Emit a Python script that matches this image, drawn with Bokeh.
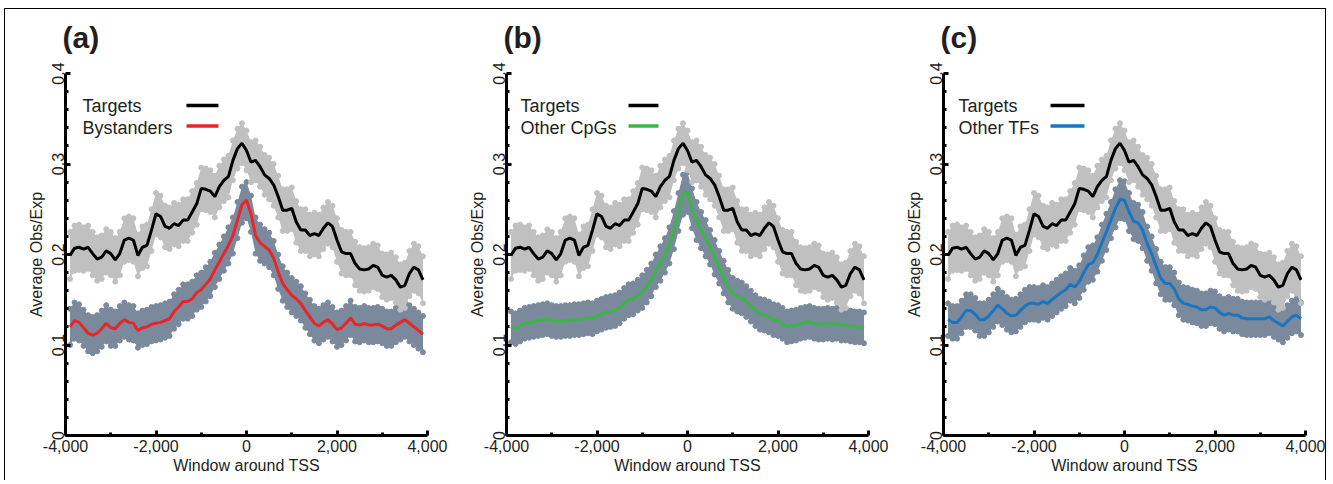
from bokeh.plotting import figure
from bokeh.layouts import row
from bokeh.models import FixedTicker, NumeralTickFormatter, Label, Range1d, Title
from bokeh.embed import file_html
from bokeh.resources import INLINE

# ---------------- data ----------------
positions = list(range(-3900, 4000, 100))  # window around TSS (bp)

targets = [0.199, 0.207, 0.208, 0.206, 0.208, 0.201, 0.195, 0.197, 0.204, 0.201,
           0.194, 0.201, 0.216, 0.218, 0.216, 0.199, 0.208, 0.210, 0.227, 0.245,
           0.242, 0.231, 0.229, 0.234, 0.232, 0.238, 0.238, 0.247, 0.256, 0.273,
           0.272, 0.270, 0.264, 0.275, 0.282, 0.286, 0.304, 0.317, 0.323, 0.315,
           0.302, 0.304, 0.297, 0.288, 0.284, 0.277, 0.264, 0.249, 0.249, 0.251,
           0.236, 0.227, 0.227, 0.221, 0.223, 0.221, 0.229, 0.235, 0.231, 0.216,
           0.203, 0.201, 0.201, 0.190, 0.184, 0.183, 0.184, 0.188, 0.186, 0.177,
           0.175, 0.177, 0.172, 0.164, 0.166, 0.179, 0.186, 0.183, 0.172]
targets_err = [0.026, 0.025, 0.025, 0.024, 0.024, 0.024, 0.024, 0.024, 0.024, 0.024,
               0.024, 0.024, 0.024, 0.024, 0.024, 0.023, 0.023, 0.023, 0.023, 0.023,
               0.023, 0.023, 0.023, 0.023, 0.023, 0.023, 0.023, 0.023, 0.023, 0.023,
               0.023, 0.023, 0.023, 0.023, 0.023, 0.023, 0.022, 0.022, 0.022, 0.022,
               0.022, 0.022, 0.022, 0.022, 0.023, 0.023, 0.023, 0.023, 0.023, 0.023,
               0.023, 0.023, 0.023, 0.023, 0.023, 0.023, 0.023, 0.023, 0.023, 0.024,
               0.024, 0.024, 0.024, 0.024, 0.024, 0.024, 0.024, 0.024, 0.024, 0.024,
               0.025, 0.025, 0.025, 0.025, 0.025, 0.025, 0.026, 0.026, 0.026]

bystanders = [0.120, 0.127, 0.125, 0.119, 0.113, 0.111, 0.113, 0.118, 0.124, 0.119,
              0.118, 0.124, 0.128, 0.125, 0.124, 0.116, 0.119, 0.120, 0.123, 0.124,
              0.125, 0.127, 0.129, 0.137, 0.142, 0.148, 0.148, 0.151, 0.158, 0.161,
              0.167, 0.173, 0.183, 0.192, 0.201, 0.210, 0.221, 0.238, 0.255, 0.260,
              0.245, 0.221, 0.213, 0.209, 0.205, 0.196, 0.181, 0.168, 0.161, 0.155,
              0.151, 0.146, 0.138, 0.131, 0.124, 0.121, 0.125, 0.128, 0.123, 0.117,
              0.119, 0.124, 0.130, 0.123, 0.122, 0.124, 0.122, 0.122, 0.123, 0.121,
              0.118, 0.118, 0.122, 0.125, 0.128, 0.124, 0.120, 0.116, 0.112]
bystanders_err = [0.020, 0.020, 0.020, 0.020, 0.020, 0.020, 0.020, 0.020, 0.020, 0.020,
                  0.019, 0.019, 0.019, 0.019, 0.019, 0.019, 0.019, 0.019, 0.019, 0.019,
                  0.019, 0.019, 0.019, 0.019, 0.019, 0.019, 0.019, 0.019, 0.019, 0.019,
                  0.019, 0.019, 0.019, 0.019, 0.019, 0.020, 0.020, 0.020, 0.020, 0.020,
                  0.020, 0.020, 0.020, 0.019, 0.019, 0.019, 0.019, 0.019, 0.019, 0.019,
                  0.019, 0.019, 0.019, 0.019, 0.019, 0.019, 0.019, 0.019, 0.019, 0.019,
                  0.019, 0.019, 0.019, 0.019, 0.019, 0.019, 0.019, 0.019, 0.019, 0.019,
                  0.019, 0.019, 0.019, 0.019, 0.019, 0.020, 0.020, 0.020, 0.020]

other_cpgs = [0.120, 0.118, 0.121, 0.124, 0.125, 0.126, 0.127, 0.128, 0.129, 0.127,
              0.126, 0.126, 0.127, 0.127, 0.128, 0.128, 0.129, 0.130, 0.129, 0.132,
              0.134, 0.136, 0.137, 0.138, 0.141, 0.146, 0.150, 0.151, 0.155, 0.159,
              0.165, 0.172, 0.182, 0.190, 0.199, 0.210, 0.227, 0.247, 0.266, 0.269,
              0.251, 0.237, 0.227, 0.218, 0.208, 0.197, 0.186, 0.175, 0.165, 0.157,
              0.154, 0.152, 0.148, 0.143, 0.138, 0.134, 0.133, 0.131, 0.128, 0.127,
              0.124, 0.120, 0.121, 0.122, 0.124, 0.125, 0.126, 0.124, 0.123, 0.123,
              0.124, 0.123, 0.124, 0.122, 0.122, 0.121, 0.120, 0.120, 0.119]
other_cpgs_err = [0.017, 0.017, 0.017, 0.017, 0.017, 0.017, 0.017, 0.017, 0.017, 0.017,
                  0.017, 0.017, 0.017, 0.017, 0.017, 0.017, 0.017, 0.017, 0.017, 0.017,
                  0.017, 0.017, 0.017, 0.017, 0.017, 0.017, 0.017, 0.017, 0.017, 0.018,
                  0.018, 0.018, 0.018, 0.019, 0.019, 0.020, 0.021, 0.021, 0.022, 0.022,
                  0.022, 0.021, 0.020, 0.020, 0.019, 0.019, 0.018, 0.018, 0.018, 0.017,
                  0.017, 0.017, 0.017, 0.017, 0.017, 0.017, 0.017, 0.017, 0.017, 0.017,
                  0.017, 0.017, 0.017, 0.017, 0.017, 0.017, 0.017, 0.017, 0.017, 0.017,
                  0.017, 0.017, 0.017, 0.017, 0.017, 0.017, 0.017, 0.017, 0.017]

other_tfs = [0.128, 0.125, 0.125, 0.131, 0.138, 0.138, 0.134, 0.128, 0.128, 0.132,
             0.138, 0.144, 0.140, 0.135, 0.132, 0.133, 0.138, 0.143, 0.146, 0.146,
             0.145, 0.148, 0.146, 0.150, 0.154, 0.158, 0.161, 0.167, 0.164, 0.170,
             0.180, 0.189, 0.191, 0.200, 0.213, 0.225, 0.238, 0.251, 0.261, 0.260,
             0.247, 0.237, 0.235, 0.227, 0.212, 0.201, 0.187, 0.174, 0.168, 0.168,
             0.162, 0.151, 0.146, 0.145, 0.143, 0.142, 0.139, 0.139, 0.142, 0.141,
             0.136, 0.133, 0.135, 0.133, 0.133, 0.130, 0.129, 0.129, 0.129, 0.129,
             0.129, 0.131, 0.127, 0.124, 0.121, 0.126, 0.131, 0.133, 0.129]
other_tfs_err = [0.018, 0.018, 0.018, 0.018, 0.018, 0.018, 0.018, 0.018, 0.018, 0.018,
                 0.018, 0.018, 0.018, 0.018, 0.018, 0.018, 0.018, 0.018, 0.018, 0.018,
                 0.018, 0.018, 0.018, 0.018, 0.018, 0.018, 0.018, 0.018, 0.018, 0.018,
                 0.019, 0.019, 0.019, 0.019, 0.020, 0.020, 0.020, 0.021, 0.021, 0.021,
                 0.021, 0.020, 0.020, 0.020, 0.019, 0.019, 0.019, 0.018, 0.018, 0.018,
                 0.018, 0.018, 0.018, 0.018, 0.018, 0.018, 0.018, 0.018, 0.018, 0.018,
                 0.018, 0.018, 0.018, 0.018, 0.018, 0.018, 0.018, 0.018, 0.018, 0.018,
                 0.018, 0.018, 0.018, 0.018, 0.018, 0.018, 0.018, 0.018, 0.018]

x_major = [-4000, -2000, 0, 2000, 4000]
x_minor = [-3000, -1000, 1000, 3000]
y_major = [0, 0.1, 0.2, 0.3, 0.4]
y_minor = [0.02, 0.04, 0.06, 0.08, 0.12, 0.14, 0.16, 0.18, 0.22, 0.24, 0.26, 0.28,
           0.32, 0.34, 0.36, 0.38]
y_labels = {0: "0", 0.1: "0.1", 0.2: "0.2", 0.3: "0.3", 0.4: "0.4"}

FONT = "Liberation Sans"
TXT = "#231f20"
LIGHT_BAND = "#c0c0c0"
DARK_BAND = "#7a8a9c"


def band(p, ys, errs, color):
    lo = [v - e for v, e in zip(ys, errs)]
    hi = [v + e for v, e in zip(ys, errs)]
    p.varea(x=positions, y1=lo, y2=hi, fill_color=color, fill_alpha=1.0)
    p.scatter(x=positions, y=hi, size=5, marker="circle", color=color)
    p.scatter(x=positions, y=lo, size=5, marker="circle", color=color)


def panel(letter, name, vals, errs, color, width, bl, br, tx, lx0, lx1):
    p = figure(width=width, height=471, x_range=Range1d(-4000, 4000),
               y_range=Range1d(0, 0.4), output_backend="svg",
               toolbar_location=None, min_border_left=bl, min_border_right=br,
               min_border_top=64, min_border_bottom=45)
    p.outline_line_color = None
    p.xgrid.visible = False
    p.ygrid.visible = False

    # panel letter as the plot title, with a thin spacer between it and the frame
    p.title.text = letter
    p.title.text_font = FONT
    p.title.text_font_size = "30px"
    p.title.text_font_style = "bold"
    p.title.text_color = TXT
    p.title.align = "left"
    p.title.offset = -3
    p.add_layout(Title(text=" ", text_font_size="2px", standoff=11), "above")

    band(p, vals, errs, DARK_BAND)
    band(p, targets, targets_err, LIGHT_BAND)
    p.line(positions, vals, line_color=color, line_width=3)
    p.line(positions, targets, line_color="black", line_width=3)

    # legend
    p.add_layout(Label(x=tx, y=0.3646, text="Targets", text_font=FONT,
                       text_font_size="18px", text_color=TXT, text_baseline="middle"))
    p.add_layout(Label(x=tx, y=0.340, text=name, text_font=FONT,
                       text_font_size="18px", text_color=TXT, text_baseline="middle"))
    p.line([lx0, lx1], [0.3646, 0.3646], line_color="black", line_width=3.5)
    p.line([lx0, lx1], [0.342, 0.342], line_color=color, line_width=3.5)

    for ax in (p.xaxis[0], p.yaxis[0]):
        ax.axis_line_width = 3
        ax.axis_line_color = "black"
        ax.major_tick_in = 5
        ax.major_tick_out = 0
        ax.minor_tick_in = 3
        ax.minor_tick_out = 0
        ax.major_tick_line_width = 3
        ax.minor_tick_line_width = 3
        ax.major_label_text_font = FONT
        ax.major_label_text_font_size = "16px"
        ax.major_label_text_color = TXT
        ax.axis_label_text_font = FONT
        ax.axis_label_text_font_size = "16px"
        ax.axis_label_text_font_style = "normal"
        ax.axis_label_text_color = TXT

    p.xaxis.ticker = FixedTicker(ticks=x_major, minor_ticks=x_minor)
    p.xaxis.formatter = NumeralTickFormatter(format="0,0")
    p.xaxis.axis_label = "Window around TSS"
    p.xaxis.major_label_standoff = 4
    p.xaxis.axis_label_standoff = 2

    p.yaxis.ticker = FixedTicker(ticks=y_major, minor_ticks=y_minor)
    p.yaxis.major_label_overrides = y_labels
    p.yaxis.major_label_orientation = "vertical"
    p.yaxis.axis_label = "Average Obs/Exp"
    p.yaxis.major_label_standoff = 2
    p.yaxis.axis_label_standoff = 4
    return p


pa = panel("(a)", "Bystanders", bystanders, bystanders_err, "#e8262a",
           444, 60, 22, -3624, -1326, -619)
pb = panel("(b)", "Other CpGs", other_cpgs, other_cpgs_err, "#3cb44a",
           439, 57, 20, -3690, -1304, -641)
pc = panel("(c)", "Other TFs", other_tfs, other_tfs_err, "#1a75c0",
           437, 55, 20, -3670, -1635, -884)

layout = row(pa, pb, pc, styles={"margin-left": "4px", "margin-top": "8px",
                                 "border-top": "1px solid black",
                                 "border-right": "1px solid black",
                                 "border-left": "1px solid black"})

open("out.html", "w").write(file_html(layout, INLINE))
